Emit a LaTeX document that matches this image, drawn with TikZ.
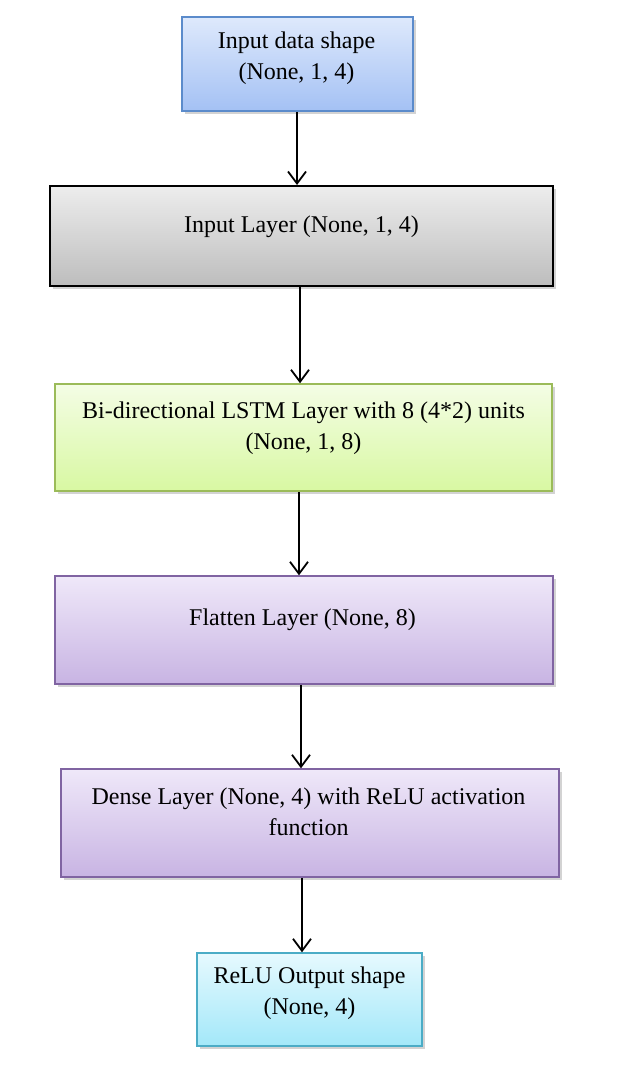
\documentclass[tikz,border=0pt]{standalone}
\usepackage{fontspec}
\setmainfont{Liberation Serif}
\usetikzlibrary{arrows.meta,shadows}

\definecolor{blueline}{HTML}{5B8BCB}
\definecolor{bluetop}{HTML}{DEE9FC}
\definecolor{bluebot}{HTML}{A4C1F4}
\definecolor{graytop}{HTML}{EDEDED}
\definecolor{graybot}{HTML}{BDBDBD}
\definecolor{greenline}{HTML}{9BBB59}
\definecolor{greentop}{HTML}{F4FDE5}
\definecolor{greenbot}{HTML}{D8F8A2}
\definecolor{purpline}{HTML}{8064A2}
\definecolor{purptop}{HTML}{EFE8F9}
\definecolor{purpbot}{HTML}{C8B4E3}
\definecolor{cyanline}{HTML}{4BACC6}
\definecolor{cyantop}{HTML}{E6F9FE}
\definecolor{cyanbot}{HTML}{A3E8F9}

\tikzset{
  layer/.style={draw, line width=0.75pt, inner sep=0pt,
    drop shadow={shadow xshift=1.5pt, shadow yshift=-1.5pt, opacity=0.35}},
  lbl/.style={align=center, inner sep=0pt, font=\fontsize{12}{15.5}\selectfont},
  flow/.style={-{Straight Barb[length=6pt,width=9pt]}, line width=0.9pt}
}

\begin{document}
\begin{tikzpicture}[x=0.5pt,y=-0.5pt]
  \useasboundingbox (0,0) rectangle (626,1065);

  % layer boxes
  \node[layer, top color=bluetop, bottom color=bluebot, draw=blueline,
        minimum width=115.5pt, minimum height=47pt] (inshape) at (297.5,64) {};
  \node[layer, top color=graytop, bottom color=graybot, draw=black, line width=1pt,
        minimum width=251.5pt, minimum height=50pt] (inlayer) at (301.5,236) {};
  \node[layer, top color=greentop, bottom color=greenbot, draw=greenline,
        minimum width=248.5pt, minimum height=53.5pt] (lstm) at (303.5,437.5) {};
  \node[layer, top color=purptop, bottom color=purpbot, draw=purpline,
        minimum width=249pt, minimum height=54pt] (flatten) at (304,630) {};
  \node[layer, top color=purptop, bottom color=purpbot, draw=purpline,
        minimum width=249pt, minimum height=54pt] (dense) at (310,823) {};
  \node[layer, top color=cyantop, bottom color=cyanbot, draw=cyanline,
        minimum width=112.5pt, minimum height=46.5pt] (outshape) at (309.5,999.5) {};

  % texts
  \node[lbl] (inshapetxt) at ([xshift=-0.5pt,yshift=2.75pt]inshape.center) {Input data shape\\(None, 1, 4)};
  \node[lbl] (inlayertxt) at ([yshift=4.75pt]inlayer.center) {Input Layer (None, 1, 4)};
  \node[lbl] (lstmtxt) at ([yshift=4.5pt]lstm.center) {Bi-directional LSTM Layer with 8 (4*2) units\\(None, 1, 8)};
  \node[lbl] (flattentxt) at ([xshift=-0.75pt,yshift=5.25pt]flatten.center) {Flatten Layer (None, 8)};
  \node[lbl] (densetxt) at ([xshift=-0.75pt,yshift=5.75pt]dense.center) {Dense Layer (None, 4) with ReLU activation\\function};
  \node[lbl] (outshapetxt) at ([yshift=3.25pt]outshape.center) {ReLU Output shape\\(None, 4)};

  % connectors
  \coordinate (s1) at ([xshift=-0.25pt]inshape.south);
  \coordinate (s2) at ([xshift=-0.75pt]inlayer.south);
  \coordinate (s3) at ([xshift=-2.25pt]lstm.south);
  \coordinate (s4) at ([xshift=-1.5pt]flatten.south);
  \coordinate (s5) at ([xshift=-4pt]dense.south);
  \draw[flow] (s1) -- (s1 |- inlayer.north);
  \draw[flow] (s2) -- (s2 |- lstm.north);
  \draw[flow] (s3) -- (s3 |- flatten.north);
  \draw[flow] (s4) -- (s4 |- dense.north);
  \draw[flow] (s5) -- (s5 |- outshape.north);
\end{tikzpicture}
\end{document}
